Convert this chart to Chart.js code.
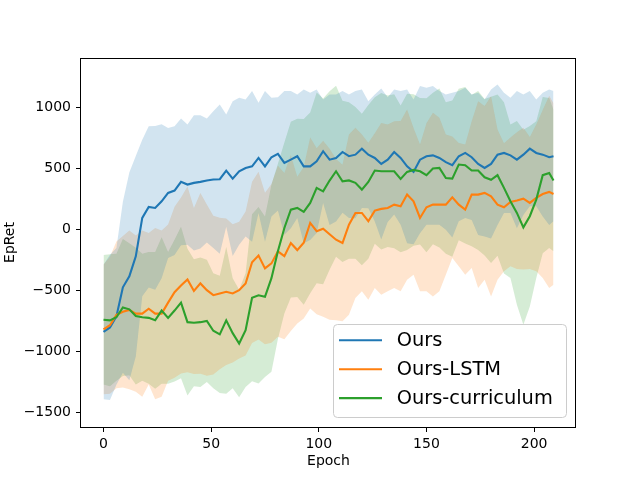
<!DOCTYPE html>
<html>
<head>
<meta charset="utf-8">
<script src="https://cdn.jsdelivr.net/npm/chart.js@4.4.1/dist/chart.umd.min.js"></script>
<style>
  html, body { margin: 0; padding: 0; background: #fff; }
  canvas { display: block; }
</style>
</head>
<body>
<canvas id="myChart" width="640" height="480"></canvas>
<script>
// epochs sampled from the curves
const epochs = [0,3,6,9,12,15,18,21,24,27,30,33,36,39,42,45,48,51,54,57,60,63,66,69,72,75,78,81,84,87,90,93,96,99,102,105,108,111,114,117,120,123,126,129,132,135,138,141,144,147,150,153,156,159,162,165,168,171,174,177,180,183,186,189,192,195,198,201,204,207,209];

const oursMean = [-840,-803,-713,-475,-385,-221,93,183,175,229, 298,317,388,366,380,388,399,407,410,480, 415,475,502,515,584,515,590,617,543,570, 598,515,515,557,639,570,584,633,598,611, 660,611,584,535,570,633,584,515,470,570, 598,605,584,550,525,598,625,590,535,502, 535,611,625,605,570,611,660,625,611,590, 598];
const oursStd = [550,595,560,700,850,820,640,660,670,630, 532,527,519,492,554,546,508,560,611,459, 634,601,560,616,451,616,486,464,588,561, 506,630,602,588,423,534,520,498,506,520, 485,438,520,618,511,512,547,630,592,602, 560,567,547,554,592,533,533,514,582,560, 610,575,492,471,561,493,471,437,506,555, 533];

const lstmMean = [-820,-785,-700,-675,-660,-690,-690,-650,-690,-690, -600,-515,-460,-410,-505,-443,-498,-539,-525,-511, -525,-498,-443,-270,-215,-320,-279,-180,-220,-112, -170,-110,52,-16,5,-41,-85,-112,38,134, 134,66,153,167,175,202,189,284,229,93, 180,202,202,202,262,202,161,284,284,298, 270,202,180,224,235,251,216,257,289,306, 289];
const lstmStd = [530,560,600,620,650,640,680,620,700,680, 640,700,720,760,680,740,700,650,620,600, 566,560,589,660,687,620,650,700,680,720, 600,620,700,680,720,700,660,640,738,697, 642,643,634,703,683,683,697,697,601,601, 688,751,710,574,497,505,533,601,765,711, 819,615,524,527,560,580,540,600,688,787, 743];

const currMean = [-740,-745,-720,-640,-655,-710,-720,-725,-745,-665, -725,-665,-600,-760,-765,-760,-750,-830,-860,-745, -850,-935,-825,-560,-540,-552,-400,-180,11,161, 175,142,216,339,311,399,475,393,400,380, 325,388,481,475,475,475,413,470,486,475, 443,497,502,420,415,530,524,481,481,426, 405,443,339,229,134,16,107,243,443,461, 399];
const currStd = [530,540,520,560,540,560,520,540,560,600, 540,580,620,600,520,530,500,470,480,600, 450,440,465,683,723,656,765,717,700,720, 730,760,740,780,760,730,700,660,640,620, 620,630,600,640,620,630,600,640,620,600, 630,620,650,620,640,620,640,620,650,640, 680,660,700,628,752,798,738,642,640,614, 579];

const names = ['Ours', 'Ours-LSTM', 'Ours-curriculum'];
const colors = ['#1f77b4', '#ff7f0e', '#2ca02c'];
const shades = ['rgba(31,119,180,0.2)', 'rgba(255,127,14,0.2)', 'rgba(44,160,44,0.2)'];
const xTicks = [0, 50, 100, 150, 200];
const yTicks = [-1500, -1000, -500, 0, 500, 1000];

const means = [oursMean, lstmMean, currMean];
const stds = [oursStd, lstmStd, currStd];

function pts(mean, std, sign) {
  return epochs.map((e, i) => ({ x: e, y: mean[i] + sign * std[i] }));
}

const datasets = [];
// bands: upper filled down to lower
for (let k = 0; k < 3; k++) {
  datasets.push({
    data: pts(means[k], stds[k], 1),
    borderColor: 'transparent', borderWidth: 0,
    backgroundColor: shades[k], fill: '+1', order: 4
  });
  datasets.push({
    data: pts(means[k], stds[k], -1),
    borderColor: 'transparent', borderWidth: 0,
    fill: false, order: 4
  });
}
// mean lines, green on top
for (let k = 0; k < 3; k++) {
  datasets.push({
    label: names[k],
    data: pts(means[k], stds[k], 0),
    borderColor: colors[k], borderWidth: 2.1,
    fill: false, order: 3 - k
  });
}

const frameAndLegend = {
  id: 'frameAndLegend',
  afterDraw(chart) {
    const { ctx, chartArea: a } = chart;
    ctx.save();
    ctx.strokeStyle = '#000';
    ctx.lineWidth = 1;
    ctx.strokeRect(Math.floor(a.left) - 0.5, Math.floor(a.top) + 0.5,
                   Math.round(a.right - a.left), Math.round(a.bottom - a.top));

    // legend, lower right
    const w = 233, h = 93;
    const x0 = a.right - 10 - w, y0 = a.bottom - 10 - h;
    ctx.beginPath();
    ctx.roundRect(x0 + 0.5, y0 + 0.5, w, h, 4);
    ctx.fillStyle = 'rgba(255,255,255,0.8)';
    ctx.fill();
    ctx.strokeStyle = '#cccccc';
    ctx.stroke();

    ctx.font = '19.4px "DejaVu Sans"';
    ctx.textBaseline = 'middle';
    ctx.textAlign = 'left';
    for (let k = 0; k < names.length; k++) {
      const y = y0 + 16.3 + k * 28.9;
      ctx.beginPath();
      ctx.moveTo(x0 + 6, y);
      ctx.lineTo(x0 + 49, y);
      ctx.strokeStyle = colors[k];
      ctx.lineWidth = 2.1;
      ctx.stroke();
      ctx.fillStyle = '#000';
      ctx.fillText(names[k], x0 + 63.7, y + 1);
    }
    ctx.restore();
  }
};

Chart.defaults.font.family = '"DejaVu Sans", sans-serif';
Chart.defaults.color = '#000';

const fmt = v => String(v).replace('-', '\u2212');

new Chart(document.getElementById('myChart'), {
  type: 'line',
  data: { datasets },
  options: {
    responsive: false,
    animation: false,
    devicePixelRatio: 1,
    layout: { padding: { top: 58, right: 64, bottom: 0, left: 0 } },
    elements: { point: { radius: 0 }, line: { tension: 0 } },
    plugins: {
      legend: { display: false },
      tooltip: { enabled: false },
      filler: { drawTime: 'beforeDatasetsDraw' }
    },
    scales: {
      x: {
        type: 'linear', min: -10.45, max: 219.45,
        afterBuildTicks: s => { s.ticks = xTicks.map(v => ({ value: v })); },
        afterFit: s => { s.height = 53; },
        border: { display: false },
        grid: { drawOnChartArea: false, tickLength: 5, color: '#000' },
        ticks: { font: { size: 14 }, padding: 4, maxRotation: 0, callback: fmt },
        title: { display: true, text: 'Epoch', font: { size: 14 }, padding: { top: 0, bottom: 10 } }
      },
      y: {
        type: 'linear', min: -1618, max: 1402,
        afterBuildTicks: s => { s.ticks = yTicks.map(v => ({ value: v })); },
        afterFit: s => { s.width = 81; },
        border: { display: false },
        grid: { drawOnChartArea: false, tickLength: 5, color: '#000' },
        ticks: { font: { size: 14 }, padding: 5, callback: fmt },
        title: { display: true, text: 'EpRet', font: { size: 14 }, padding: { top: 2, bottom: 0 } }
      }
    }
  },
  plugins: [frameAndLegend]
});
</script>
</body>
</html>
